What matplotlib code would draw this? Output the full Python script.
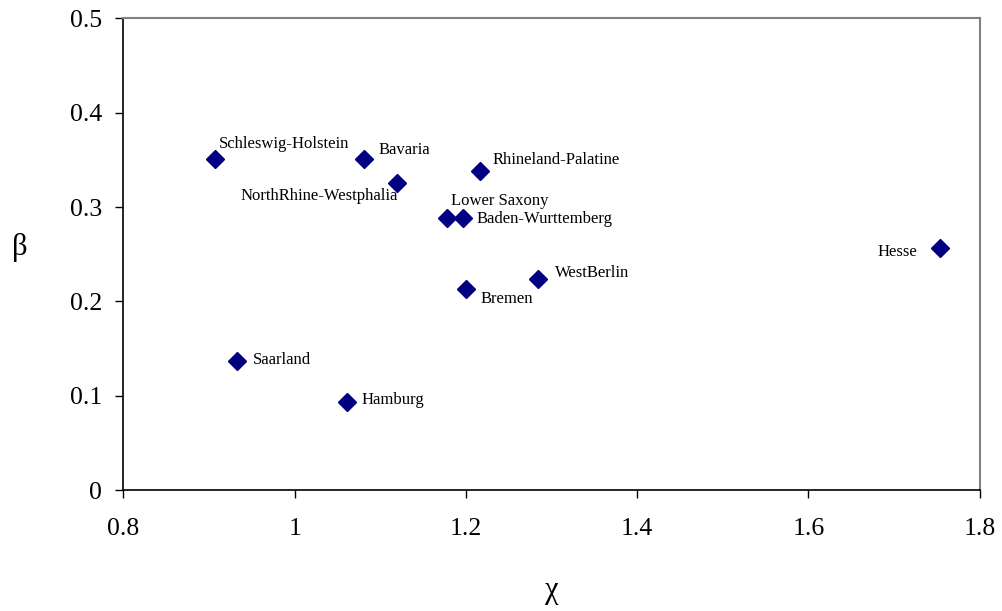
import matplotlib.pyplot as plt

# data
states = ['Schleswig-Holstein', 'Bavaria', 'NorthRhine-Westphalia', 'Rhineland-Palatine',
          'Lower Saxony', 'Baden-Wurttemberg', 'WestBerlin', 'Bremen', 'Saarland',
          'Hamburg', 'Hesse']
chi = [0.907, 1.081, 1.120, 1.217, 1.178, 1.197, 1.284, 1.200, 0.933, 1.061, 1.754]
beta = [0.351, 0.351, 0.325, 0.338, 0.288, 0.288, 0.224, 0.213, 0.137, 0.093, 0.257]

# label offsets in pixels (dx, dy, horizontal alignment)
offsets = [(4, 15, 'left'), (14, 9, 'left'), (0, -13, 'right'), (12, 11, 'left'),
           (4, 17, 'left'), (13, -1, 'left'), (17, 6, 'left'), (15, -10, 'left'),
           (16, 1, 'left'), (15, 2, 'left'), (-23, -4, 'right')]

plt.rcParams['font.family'] = ['Liberation Serif', 'DejaVu Serif']

fig = plt.figure(figsize=(10.03, 6.11), dpi=100)
ax = fig.add_axes([0.1231, 0.198, 0.8535, 0.772])

ax.plot(chi, beta, linestyle='none', marker='D', markersize=9.5, color='#000080')

for name, x, y, (dx, dy, ha) in zip(states, chi, beta, offsets):
    ax.annotate(name, xy=(x, y), xytext=(dx, dy), textcoords='offset pixels',
                ha=ha, va='center', fontsize=12)

ax.set_xlim(0.8, 1.8)
ax.set_ylim(0, 0.5)
ax.set_xticks([0.8, 1, 1.2, 1.4, 1.6, 1.8])
ax.set_xticklabels(['0.8', '1', '1.2', '1.4', '1.6', '1.8'])
ax.set_yticks([0, 0.1, 0.2, 0.3, 0.4, 0.5])
ax.set_yticklabels(['0', '0.1', '0.2', '0.3', '0.4', '0.5'])
ax.tick_params(direction='out', length=6, width=1, labelsize=18.5)
ax.tick_params(axis='x', pad=14)
ax.tick_params(axis='y', pad=9.5)

for s in ['left', 'bottom']:
    ax.spines[s].set_color('black')
    ax.spines[s].set_linewidth(1.2)
for s in ['top', 'right']:
    ax.spines[s].set_color('#808080')
    ax.spines[s].set_linewidth(1.5)

ax.set_xlabel('χ', fontsize=22, va='center')
ax.set_ylabel('β', fontsize=22, rotation=0, va='center', ha='center')
ax.xaxis.set_label_coords(0.5, -0.212)
ax.yaxis.set_label_coords(-0.121, 0.515)

fig.savefig('out.png', dpi=100)
